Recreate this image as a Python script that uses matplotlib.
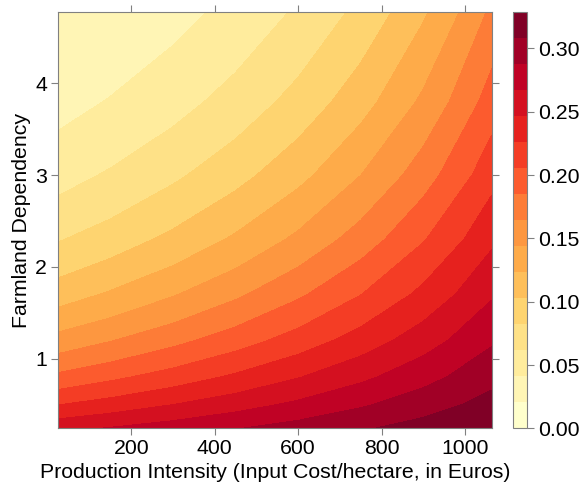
import numpy as np
import matplotlib.pyplot as plt
from matplotlib.colors import ListedColormap, BoundaryNorm
from matplotlib.cm import ScalarMappable

plt.rcParams['font.family'] = ['Liberation Sans', 'DejaVu Sans']

# grid: columns = input cost, rows = farmland dependency
input_cost = [25, 150, 300, 450, 600, 750, 900, 1064]
farmland_dep = [0.24, 0.5, 0.8, 1.2, 1.7, 2.3, 3.0, 3.8, 4.78]
z_y024 = [0.2616, 0.2688, 0.2777, 0.2869, 0.2964, 0.3062, 0.3163, 0.3278]
z_y050 = [0.2256, 0.2349, 0.2466, 0.2588, 0.2716, 0.2851, 0.2993, 0.3155]
z_y080 = [0.1902, 0.2011, 0.2149, 0.2298, 0.2457, 0.2626, 0.2808, 0.3021]
z_y120 = [0.1514, 0.1634, 0.1790, 0.1961, 0.2148, 0.2354, 0.2578, 0.2849]
z_y170 = [0.1139, 0.1261, 0.1424, 0.1608, 0.1817, 0.2052, 0.2319, 0.2649]
z_y230 = [0.0809, 0.0923, 0.1082, 0.1268, 0.1486, 0.1741, 0.2041, 0.2427]
z_y300 = [0.0543, 0.0642, 0.0786, 0.0961, 0.1175, 0.1438, 0.1758, 0.2191]
z_y380 = [0.0344, 0.0424, 0.0544, 0.0700, 0.0899, 0.1155, 0.1483, 0.1950]
z_y478 = [0.0220, 0.0255, 0.0348, 0.0474, 0.0647, 0.0883, 0.1204, 0.1690]

z_max = 0.329
n_bands = 16
cbar_ticks = [0.00, 0.05, 0.10, 0.15, 0.20, 0.25, 0.30]
x_ticks = [200, 400, 600, 800, 1000]
y_ticks = [1, 2, 3, 4]

Z = np.array([z_y024, z_y050, z_y080, z_y120, z_y170,
              z_y230, z_y300, z_y380, z_y478])
X, Y = np.meshgrid(input_cost, farmland_dep)

levels = np.linspace(0, z_max, n_bands + 1)
cmap = plt.get_cmap('YlOrRd')
band_colors = [cmap(t) for t in np.linspace(0, 1, n_bands)]

# contour in log space so the bands bend smoothly between grid nodes
log_levels = np.log(np.r_[1e-4, levels[1:]])

frame = '#808080'
fs = 15.3
fig = plt.figure(figsize=(5.81, 4.88), dpi=100)
ax = fig.add_axes([0.1003, 0.1223, 0.746, 0.8537])
cax = fig.add_axes([0.883, 0.1223, 0.0241, 0.8537])

ax.contourf(X, Y, np.log(Z), levels=log_levels, colors=band_colors,
            antialiased=False)
ax.set_xlim(25, 1064)
ax.set_ylim(0.24, 4.78)
ax.set_xticks(x_ticks)
ax.set_yticks(y_ticks)
ax.tick_params(direction='out', top=True, right=True, length=5, width=0.8,
               color=frame, labelsize=fs, pad=3)
for s in ax.spines.values():
    s.set_color(frame)
ax.set_xlabel('Production Intensity (Input Cost/hectare, in Euros)',
              fontsize=fs, labelpad=3)
ax.set_ylabel('Farmland Dependency', fontsize=fs, labelpad=3)

sm = ScalarMappable(norm=BoundaryNorm(levels, n_bands),
                    cmap=ListedColormap(band_colors))
cb = fig.colorbar(sm, cax=cax, ticks=cbar_ticks)
cb.ax.minorticks_off()
cb.ax.set_yticklabels(['%.2f' % t for t in cbar_ticks])
cb.ax.tick_params(direction='out', length=5, width=0.8, color=frame,
                  labelsize=fs, pad=3)
cb.outline.set_edgecolor(frame)

fig.savefig('out.png', dpi=100)
